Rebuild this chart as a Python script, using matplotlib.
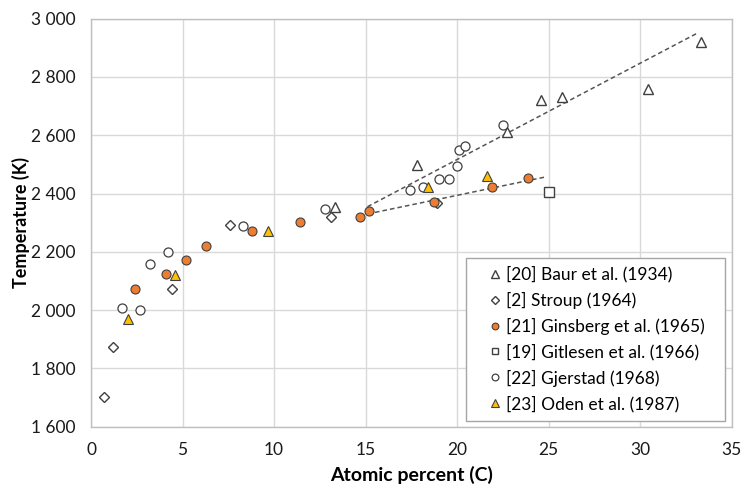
import matplotlib.pyplot as plt
from matplotlib.patches import Rectangle
from matplotlib.ticker import FuncFormatter

plt.rcParams['font.family'] = ['Lato', 'DejaVu Sans']

# [20] Baur et al. (1934)
baur_x = [13.3, 17.8, 22.7, 24.6, 25.7, 30.4, 33.3]
baur_t = [2355, 2498, 2611, 2721, 2731, 2758, 2921]
# [2] Stroup (1964)
stroup_x = [0.7, 1.2, 4.4, 7.6, 13.1, 18.9]
stroup_t = [1703, 1872, 2073, 2292, 2321, 2368]
# [21] Ginsberg et al. (1965)
gins_x = [2.4, 4.1, 5.2, 6.3, 8.8, 11.4, 14.7, 15.2, 18.75, 21.9, 23.85]
gins_t = [2072, 2123, 2172, 2221, 2272, 2301, 2321, 2341, 2372, 2421, 2452]
# [19] Gitlesen et al. (1966)
gitl_x = [25.0]
gitl_t = [2406]
# [22] Gjerstad (1968)
gjer_x = [1.7, 2.7, 3.2, 4.2, 8.3, 12.8, 17.4, 18.15, 19.0, 19.55, 20.0, 20.1, 20.4, 22.5]
gjer_t = [2006, 1999, 2159, 2198, 2290, 2346, 2412, 2423, 2449, 2449, 2495, 2549, 2564, 2634]
# [23] Oden et al. (1987)
oden_x = [2.0, 4.6, 9.65, 18.4, 21.6]
oden_t = [1970, 2121, 2271, 2421, 2461]

# dashed trend lines
upper_x = [15.1, 33.1]
upper_t = [2355, 2950]
lower_x = [15.1, 24.9]
lower_t = [2330, 2458]

edge = '#404040'

fig = plt.figure(figsize=(7.43, 4.86), dpi=100)
ax = fig.add_axes([0.1225, 0.122, 0.8625, 0.8395])

ax.plot(upper_x, upper_t, ls=(0, (3, 2)), color='#555555', lw=1.1, zorder=2)
ax.plot(lower_x, lower_t, ls=(0, (3, 2)), color='#555555', lw=1.1, zorder=2)

ms = 6.5
ax.plot(baur_x, baur_t, ls='none', marker='^', ms=7, mfc='white', mec=edge, mew=1.0,
        label='[20] Baur et al. (1934)', zorder=3)
ax.plot(stroup_x, stroup_t, ls='none', marker='D', ms=5, mfc='white', mec=edge, mew=1.0,
        label='[2] Stroup (1964)', zorder=3)
ax.plot(gins_x, gins_t, ls='none', marker='o', ms=ms, mfc='#ED7D31', mec=edge, mew=0.8,
        label='[21] Ginsberg et al. (1965)', zorder=4)
ax.plot(gitl_x, gitl_t, ls='none', marker='s', ms=6.5, mfc='white', mec=edge, mew=1.0,
        label='[19] Gitlesen et al. (1966)', zorder=3)
ax.plot(gjer_x, gjer_t, ls='none', marker='o', ms=ms, mfc='white', mec=edge, mew=0.9,
        label='[22] Gjerstad (1968)', zorder=3)
ax.plot(oden_x, oden_t, ls='none', marker='^', ms=7, mfc='#FFC000', mec=edge, mew=0.8,
        label='[23] Oden et al. (1987)', zorder=4)

ax.set_xlim(0, 35)
ax.set_ylim(1600, 3000)
ax.set_xticks(range(0, 36, 5))
ax.set_yticks(range(1600, 3001, 200))
ax.yaxis.set_major_formatter(FuncFormatter(lambda v, p: f'{int(v):,}'.replace(',', ' ')))
ax.tick_params(length=0, labelsize=12.5, colors='#1a1a1a', pad=11)
ax.grid(True, color='#d9d9d9', lw=1.0)
ax.set_axisbelow(True)
for s in ax.spines.values():
    s.set_color('#bfbfbf')
    s.set_linewidth(1.0)

ax.set_xlabel('Atomic percent (C)', fontsize=14, fontweight='bold', labelpad=6)
ax.set_ylabel('Temperature (K)', fontsize=13, fontweight='bold', va='center')
ax.yaxis.set_label_coords(-0.109, 0.5)

# legend frame drawn separately (wider padding than matplotlib allows)
ax.add_patch(Rectangle((0.585, 0.0147), 0.404, 0.399, transform=ax.transAxes,
                       facecolor='white', edgecolor='#a6a6a6', lw=1.0, zorder=5))
leg = ax.legend(loc='center left', bbox_to_anchor=(0.6225, 0.2145), fontsize=12.5,
                markerscale=0.75, handlelength=0.6, handletextpad=0.3,
                labelspacing=0.52, borderaxespad=0, borderpad=0, frameon=False)
leg.set_zorder(6)

fig.savefig('out.png', dpi=100)
